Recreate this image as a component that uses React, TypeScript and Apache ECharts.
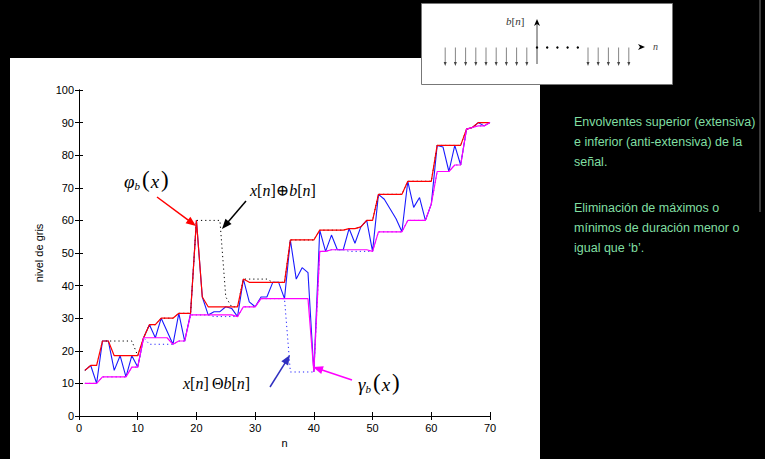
import React, { useEffect, useRef } from "react";
import * as echarts from "echarts";

// x[n] signal, n = 1..70
const signal = [
  14, 15.5, 10, 23, 23, 14, 18.5, 12, 18.5, 15,
  24, 28, 24, 30, 26, 22, 31.5, 23, 31.5, 60,
  36.5, 31, 32, 32, 33.5, 33, 30.5, 42, 35, 33.5,
  36.5, 36.5, 41, 41, 36, 54, 42, 45.5, 44, 13.5,
  57, 50.5, 55.5, 51, 51, 57.5, 53, 58, 60, 50.5,
  68, 66.5, 63.5, 60.5, 56.5, 72, 64, 67, 60, 65,
  83, 82.5, 75, 83, 77, 88, 88.5, 90, 89, 90,
];
// x[n] ⊕ b[n]
const dilation = [
  14, 15.5, 15.5, 23, 23, 23, 23, 23, 23, 18.5,
  24, 28, 28, 30, 30, 30, 31.5, 31.5, 31.5, 60,
  60, 60, 60, 60, 36.5, 33.5, 33.5, 42, 42, 42,
  42, 42, 41, 41, 41, 54, 54, 54, 54, 54,
  57, 57, 57, 57, 57, 57.5, 57.5, 58, 60, 60,
  68, 68, 68, 68, 68, 72, 72, 72, 72, 72,
  83, 83, 83, 83, 83, 88, 88.5, 90, 90, 90,
];
// x[n] Θ b[n]
const erosion = [
  10, 10, 10, 12, 12, 12, 12, 12, 15, 15,
  24, 22, 22, 22, 22, 22, 23, 23, 31, 31,
  31, 31, 30.5, 30.5, 30.5, 30.5, 30.5, 33.5, 33.5, 33.5,
  36, 36, 36, 36, 36, 13.5, 13.5, 13.5, 13.5, 13.5,
  50.5, 50.5, 51, 51, 51, 50.5, 50.5, 50.5, 50.5, 50.5,
  56.5, 56.5, 56.5, 56.5, 56.5, 60, 60, 60, 60, 65,
  75, 75, 75, 77, 77, 88, 88.5, 89, 89, 90,
];
// φ_b(x) closing
const closing = [
  14, 15.5, 15.5, 23, 23, 18.5, 18.5, 18.5, 18.5, 18.5,
  24, 28, 28, 30, 30, 30, 31.5, 31.5, 31.5, 60,
  36.5, 33.5, 33.5, 33.5, 33.5, 33.5, 33.5, 42, 41, 41,
  41, 41, 41, 41, 41, 54, 54, 54, 54, 54,
  57, 57, 57, 57, 57, 57.5, 57.5, 58, 60, 60,
  68, 68, 68, 68, 68, 72, 72, 72, 72, 72,
  83, 83, 83, 83, 83, 88, 88.5, 90, 90, 90,
];
// γ_b(x) opening
const opening = [
  10, 10, 10, 12, 12, 12, 12, 12, 15, 15,
  24, 24, 24, 24, 24, 22, 23, 23, 31, 31,
  31, 31, 31, 31, 31, 31, 30.5, 33.5, 33.5, 33.5,
  36, 36, 36, 36, 36, 36, 36, 36, 36, 13.5,
  50.5, 50.5, 51, 51, 51, 51, 51, 51, 51, 50.5,
  56.5, 56.5, 56.5, 56.5, 56.5, 60, 60, 60, 60, 65,
  75, 75, 75, 77, 77, 88, 88.5, 89, 89, 90,
];

const xTickStep = 10;
const yTickStep = 10;

const sideText1 = [
  "Envolventes superior (extensiva)",
  "e inferior (anti-extensiva) de la",
  "señal.",
];
const sideText2 = [
  "Eliminación de máximos o",
  "mínimos de duración menor o",
  "igual que \u2018b\u2019.",
];

const pairs = (arr: number[]) => arr.map((v, i) => [i + 1, v]);

function arrow(x1: number, y1: number, x2: number, y2: number, color: string, L = 10, W = 4, lw = 1.5) {
  const dx = x2 - x1, dy = y2 - y1;
  const len = Math.hypot(dx, dy);
  const ux = dx / len, uy = dy / len;
  const bx = x2 - ux * L, by = y2 - uy * L;
  const px = -uy, py = ux;
  return [
    { type: "line", z: 50, shape: { x1, y1, x2: bx + ux * 2, y2: by + uy * 2 }, style: { stroke: color, lineWidth: lw } },
    { type: "polygon", z: 50, shape: { points: [[x2, y2], [bx + px * W, by + py * W], [bx - px * W, by - py * W]] }, style: { fill: color } },
  ];
}

const serif = "'Liberation Serif', 'DejaVu Serif', serif";
const sans = "'Liberation Sans', Arial, sans-serif";

function mathRich(size: number) {
  return {
    i: { fontFamily: serif, fontStyle: "italic", fontSize: size, color: "#000", lineHeight: size + 4, verticalAlign: "bottom" },
    r: { fontFamily: serif, fontSize: size, color: "#000", lineHeight: size + 4, verticalAlign: "bottom" },
    p: { fontFamily: serif, fontSize: size + 4, color: "#000", lineHeight: size + 4, verticalAlign: "bottom", padding: [0, 1, 0, 2] },
    s: { fontFamily: serif, fontStyle: "italic", fontSize: Math.round(size * 0.6), color: "#000", lineHeight: size * 0.6, verticalAlign: "bottom" },
  };
}

export default function App() {
  const ref = useRef<HTMLDivElement>(null);
  useEffect(() => {
    if (!ref.current) return;
    const chart = echarts.init(ref.current, undefined, { renderer: "svg" });

    const insetOrigin = 537;
    const insetStep = 10.2;
    const insetAxisY = 47.5;
    const inset: any[] = [
      { type: "rect", z: 100, shape: { x: 421.5, y: 3.5, width: 251, height: 81 }, style: { fill: "#fff", stroke: "#777", lineWidth: 1 } },
    ];
    const downArrow = (x: number) => [
      { type: "line", z: 101, shape: { x1: x, y1: insetAxisY, x2: x, y2: 64 }, style: { stroke: "#666", lineWidth: 0.8 } },
      { type: "polygon", z: 101, shape: { points: [[x, 66], [x - 1.5, 62], [x + 1.5, 62]] }, style: { fill: "#444" } },
    ];
    for (let k = 1; k <= 9; k++) inset.push(...downArrow(insetOrigin - k * insetStep));
    for (let k = 5; k <= 9; k++) inset.push(...downArrow(insetOrigin + k * insetStep));
    for (let k = 0; k <= 4; k++) inset.push({ type: "circle", z: 102, shape: { cx: insetOrigin + k * insetStep, cy: insetAxisY, r: 1.2 }, style: { fill: "#000" } });
    inset.push(
      { type: "line", z: 101, shape: { x1: insetOrigin, y1: 64, x2: insetOrigin, y2: 22 }, style: { stroke: "#333", lineWidth: 0.9 } },
      { type: "polygon", z: 101, shape: { points: [[insetOrigin, 19], [insetOrigin - 3, 26], [insetOrigin, 24], [insetOrigin + 3, 26]] }, style: { fill: "#000" } },
      { type: "polygon", z: 101, shape: { points: [[645, 47], [638, 44], [640, 47], [638, 50]] }, style: { fill: "#000" } },
      { type: "text", z: 101, x: 653, y: 46, style: { text: "n", font: `italic 10px ${serif}`, fill: "#444", verticalAlign: "middle" } },
      {
        type: "text", z: 101, x: 506, y: 21,
        style: {
          text: "{i|b}{r|[}{i|n}{r|]}", verticalAlign: "middle",
          rich: {
            i: { fontFamily: serif, fontStyle: "italic", fontSize: 11, fill: "#333" },
            r: { fontFamily: serif, fontSize: 11, fill: "#333" },
          },
        },
      },
    );

    const option: any = {
      animation: false,
      backgroundColor: "#000",
      grid: { left: 79, top: 90, width: 411, height: 326, containLabel: false },
      xAxis: [
        {
          type: "value", min: 0, max: 70, interval: xTickStep, position: "bottom",
          name: "n", nameLocation: "middle", nameGap: 19,
          nameTextStyle: { color: "#000", fontFamily: sans, fontSize: 11 },
          axisLine: { lineStyle: { color: "#000", width: 1 } },
          axisTick: { inside: true, length: 4, lineStyle: { color: "#000" } },
          axisLabel: { color: "#000", fontFamily: sans, fontSize: 11, margin: 6 },
          splitLine: { show: false },
        },
        {
          type: "value", min: 0, max: 70, interval: xTickStep, position: "top",
          axisLine: { lineStyle: { color: "#000", width: 1 } },
          axisTick: { inside: true, length: 4, lineStyle: { color: "#000" } },
          axisLabel: { show: false }, splitLine: { show: false },
        },
      ],
      yAxis: [
        {
          type: "value", min: 0, max: 100, interval: yTickStep, position: "left",
          name: "nivel de gris", nameLocation: "middle", nameGap: 28, nameRotate: 90,
          nameTextStyle: { color: "#000", fontFamily: sans, fontSize: 11 },
          axisLine: { show: true, lineStyle: { color: "#000", width: 1 } },
          axisTick: { show: true, inside: true, length: 4, lineStyle: { color: "#000" } },
          axisLabel: { color: "#000", fontFamily: sans, fontSize: 11, margin: 5 },
          splitLine: { show: false },
        },
        {
          type: "value", min: 0, max: 100, interval: yTickStep, position: "right",
          axisLine: { show: true, lineStyle: { color: "#000", width: 1 } },
          axisTick: { show: true, inside: true, length: 4, lineStyle: { color: "#000" } },
          axisLabel: { show: false }, splitLine: { show: false },
        },
      ],
      series: [
        { type: "line", name: "x[n]", data: pairs(signal), symbol: "none", z: 2, lineStyle: { color: "#1a1aff", width: 1.1 } },
        { type: "line", name: "x[n]⊕b[n]", data: pairs(dilation), symbol: "none", z: 3, lineStyle: { color: "#000", width: 1, type: [1.2, 3] } },
        { type: "line", name: "x[n]Θb[n]", data: pairs(erosion), symbol: "none", z: 3, lineStyle: { color: "#2020ff", width: 1, type: [1.2, 3] } },
        { type: "line", name: "φb(x)", data: pairs(closing), symbol: "none", z: 4, lineStyle: { color: "#ff0000", width: 1.2 } },
        { type: "line", name: "γb(x)", data: pairs(opening), symbol: "none", z: 4, lineStyle: { color: "#ff00ff", width: 1.2 } },
      ],
      graphic: [
        { type: "rect", z: -1, silent: true, shape: { x: 10, y: 58, width: 530, height: 401 }, style: { fill: "#fff" } },
        { type: "line", z: 1, shape: { x1: 760, y1: 0, x2: 760, y2: 212 }, style: { stroke: "#777", lineWidth: 1 } },
        ...inset,
        // annotations
        { type: "text", z: 60, x: 124, y: 191, style: { text: "{i|φ}{s|b}{p|(}{i|x}{p|)}", rich: mathRich(19), verticalAlign: "bottom" } },
        ...arrow(157, 197, 196, 226, "#ff0000"),
        { type: "text", z: 60, x: 250, y: 198, style: { text: "{i|x}{r|[}{i|n}{r|]}{r|\u2295}{i|b}{r|[}{i|n}{r|]}", rich: mathRich(16), verticalAlign: "bottom" } },
        ...arrow(246, 201, 222, 229, "#000"),
        { type: "text", z: 60, x: 183, y: 391, style: { text: "{i|x}{r|[}{i|n}{r|]}{r|\u2009\u0398}{i|b}{r|[}{i|n}{r|]}", rich: mathRich(16), verticalAlign: "bottom" } },
        ...arrow(270, 387, 290, 355, "#3030c0"),
        { type: "text", z: 60, x: 358, y: 394, style: { text: "{i|γ}{s|b}{p|(}{i|x}{p|)}", rich: mathRich(19), verticalAlign: "bottom" } },
        ...arrow(352, 380, 313, 367, "#ff00ff"),
        // side notes
        ...sideText1.map((t, k) => ({ type: "text", z: 10, x: 574, y: 122 + k * 20, style: { text: t, font: `12.5px ${sans}`, fill: "#80dfa2", verticalAlign: "middle" } })),
        ...sideText2.map((t, k) => ({ type: "text", z: 10, x: 574, y: 208 + k * 20, style: { text: t, font: `12.5px ${sans}`, fill: "#80dfa2", verticalAlign: "middle" } })),
      ],
    };
    chart.setOption(option);
    return () => chart.dispose();
  }, []);
  return <div ref={ref} style={{ position: "fixed", left: 0, top: 0, width: 765, height: 459 }} />;
}
